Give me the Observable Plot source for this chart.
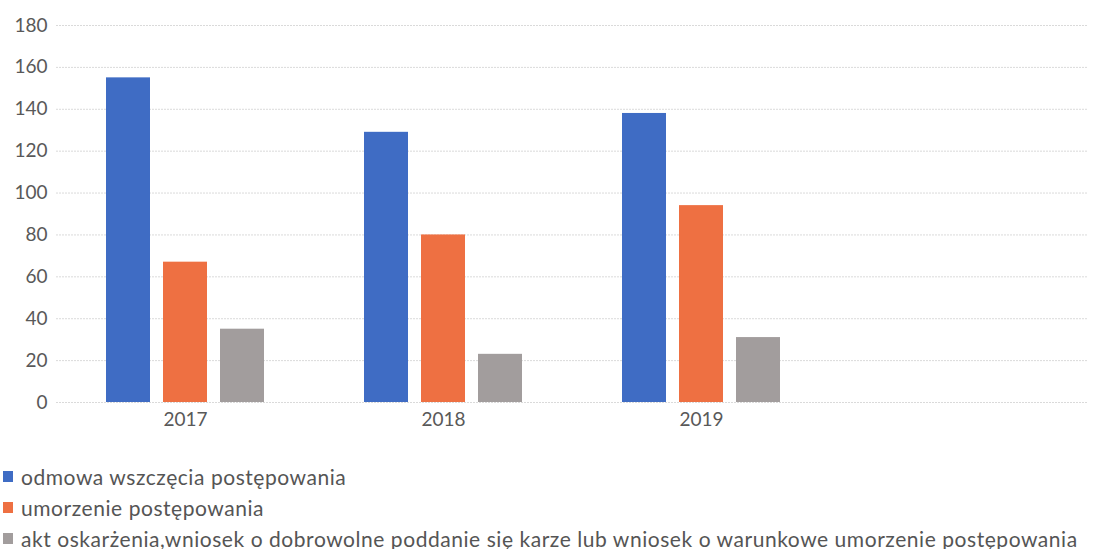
<!DOCTYPE html>
<html><head><meta charset="utf-8">
<script src="https://cdn.jsdelivr.net/npm/d3@7"></script>
<script src="https://cdn.jsdelivr.net/npm/@observablehq/plot@0.6"></script>
<style>
body{margin:0;background:#fff;font-family:Lato,"Open Sans",sans-serif;}
#legend{margin-top:21px;}
.li{display:flex;align-items:center;height:31px;font-size:21px;letter-spacing:0.55px;color:#555;white-space:nowrap;}
.sw{width:10px;height:11px;margin:0 8px 0 3px;flex:none;}
</style></head>
<body><div id="chart"></div><div id="legend"></div>
<script>
const years = ["2017","2018","2019"];
const yearSlots = ["2017","2018","2019"," "];
const series = ["odmowa wszczęcia postępowania","umorzenie postępowania","akt oskarżenia,wniosek o dobrowolne poddanie się karze lub wniosek o warunkowe umorzenie postępowania"];
const odmowa = [155, 129, 138];
const umorzenie = [67, 80, 94];
const akt = [35, 23, 31];
const colors = ["#3F6CC4","#EE7042","#A29D9D"];
const yTicks = [0,20,40,60,80,100,120,140,160,180];

const data = [];
years.forEach((y,i)=>{
  [odmowa,umorzenie,akt].forEach((arr,j)=>data.push({year:y, series:series[j], value:arr[i]}));
});
const grid = [];
yearSlots.forEach(s=>yTicks.forEach(t=>grid.push({slot:s, t})));

const chart = Plot.plot({
  width:1093, height:440,
  marginLeft:55, marginRight:5, marginTop:25, marginBottom:38,
  style:{fontFamily:"Lato, 'Open Sans', sans-serif", fontSize:"19px", color:"#595959", background:"#fff"},
  fx:{domain:yearSlots, padding:0, label:null, axis:"bottom", tickSize:0, tickPadding:10},
  x:{domain:series, paddingInner:0.235, paddingOuter:0.86, axis:null},
  y:{domain:[0,180], ticks:yTicks, label:null, tickSize:0, tickPadding:9},
  color:{domain:series, range:colors},
  marks:[
    Plot.ruleY(grid, {fx:"slot", y:"t", stroke:"#dadada", strokeWidth:1, strokeDasharray:"2,1"}),
    Plot.barY(data, {fx:"year", x:"series", y:"value", fill:"series"})
  ]
});
document.getElementById("chart").appendChild(chart);

const lg = document.getElementById("legend");
series.forEach((s,i)=>{
  const d = document.createElement("div"); d.className="li";
  const sw = document.createElement("span"); sw.className="sw"; sw.style.background=colors[i];
  const t = document.createElement("span"); t.textContent=s;
  d.appendChild(sw); d.appendChild(t); lg.appendChild(d);
});
</script></body></html>
